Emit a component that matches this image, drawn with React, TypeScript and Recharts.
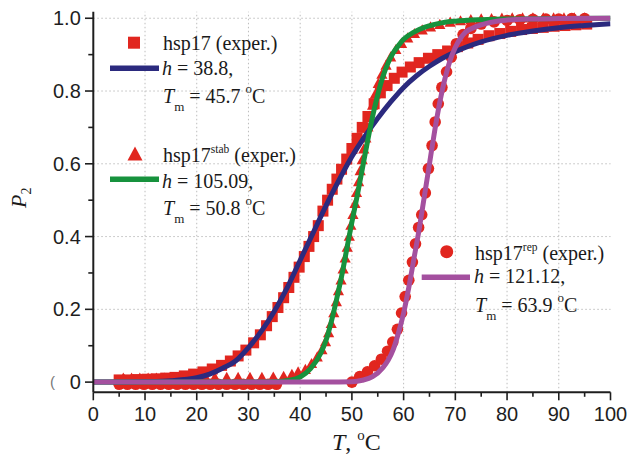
import React from "react";
import { ComposedChart, XAxis, YAxis, Line, Scatter, ReferenceLine } from "recharts";

// ---------- axis ticks / labels ----------
const xTickValues = [0, 5, 10, 15, 20, 25, 30, 35, 40, 45, 50, 55, 60, 65, 70, 75, 80, 85, 90, 95, 100];
const xTickLabels = ["0", "10", "20", "30", "40", "50", "60", "70", "80", "90", "100"];
const yTickValues = [0, 0.1, 0.2, 0.3, 0.4, 0.5, 0.6, 0.7, 0.8, 0.9, 1.0];
const yTickLabels = ["0", "0.2", "0.4", "0.6", "0.8", "1.0"];
const xGridValues = [10, 20, 30, 40, 50, 60, 70, 80, 90];
const yGridValues = [0.2, 0.4, 0.6, 0.8, 1.0];

// ---------- hsp17 (squares) experimental ----------
const sqT = [5, 6.8, 8.6, 10.4, 12.2, 14, 15.8, 17.6, 19.4, 21.2, 23, 24.8, 26.5, 28, 29.5, 31, 32.3, 33.5, 34.6, 35.7, 36.8, 37.8, 38.8, 39.8, 40.8, 41.7, 42.6, 43.5, 44.4, 45.3, 46.2, 47.1, 48, 49, 50, 51, 52, 53.1, 54.3, 55.5, 56.8, 58.2, 59.7, 61.3, 63, 64.8, 66.6, 68.5, 70.4, 72.4, 74.4, 76.5, 78.6, 80.7, 82.8, 84.9, 87, 89.1, 91.2, 93.3, 95.4];
const sqP = [0.006, 0.006, 0.007, 0.008, 0.009, 0.011, 0.013, 0.017, 0.022, 0.028, 0.036, 0.046, 0.058, 0.072, 0.088, 0.108, 0.13, 0.155, 0.18, 0.205, 0.232, 0.26, 0.288, 0.316, 0.345, 0.373, 0.4, 0.43, 0.47, 0.5, 0.53, 0.558, 0.585, 0.613, 0.642, 0.67, 0.7, 0.73, 0.765, 0.795, 0.815, 0.835, 0.852, 0.866, 0.878, 0.89, 0.9, 0.91, 0.922, 0.932, 0.942, 0.952, 0.958, 0.964, 0.969, 0.972, 0.975, 0.978, 0.98, 0.982, 0.984];

// ---------- hsp17 fit (navy) ----------
const fitNavyT = [0, 5, 10, 15, 20, 22.5, 25, 27.5, 30, 32.5, 35, 37.5, 40, 42.5, 45, 47.5, 50, 52.5, 55, 57.5, 60, 62.5, 65, 67.5, 70, 75, 80, 85, 90, 95, 100];
const fitNavyP = [0, 0.0005, 0.0015, 0.004, 0.012, 0.022, 0.038, 0.058, 0.095, 0.14, 0.195, 0.26, 0.335, 0.41, 0.485, 0.555, 0.62, 0.675, 0.725, 0.77, 0.81, 0.842, 0.868, 0.89, 0.908, 0.935, 0.953, 0.965, 0.974, 0.98, 0.985];

// ---------- hsp17stab (triangles) experimental ----------
const triT = [5.8, 7.4, 9, 10.6, 12.2, 13.8, 15.4, 17, 18.6, 20.2, 21.8, 23.5, 25.8, 28, 30.3, 32.6, 34.8, 36.8, 38.4, 39.6, 41, 42.2, 43.3, 44.2, 44.9, 45.5, 46, 46.5, 47, 47.4, 47.9, 48.3, 48.7, 49.1, 49.5, 49.8, 50.2, 50.6, 50.9, 51.3, 51.6, 52, 52.3, 52.7, 53.1, 53.5, 54, 54.5, 55.1, 55.8, 56.6, 57.5, 58.5, 59.6, 60.8, 62.1, 63.6, 65.2, 67, 69, 71, 73, 75, 77, 79, 81, 83, 85, 87, 89, 91, 93, 95];
const triP = [0.01, 0.01, 0.01, 0.01, 0.01, 0.01, 0.01, 0.01, 0.01, 0.01, 0.01, 0.012, 0.012, 0.012, 0.012, 0.012, 0.013, 0.015, 0.02, 0.027, 0.034, 0.05, 0.068, 0.088, 0.11, 0.135, 0.16, 0.19, 0.22, 0.25, 0.28, 0.31, 0.34, 0.37, 0.4, 0.43, 0.46, 0.49, 0.52, 0.55, 0.58, 0.61, 0.64, 0.67, 0.7, 0.73, 0.76, 0.79, 0.82, 0.845, 0.87, 0.893, 0.913, 0.93, 0.945, 0.957, 0.967, 0.975, 0.982, 0.988, 0.992, 0.995, 0.997, 0.998, 0.999, 1.0, 1.0, 1.0, 1.0, 1.0, 1.0, 1.0, 1.0];

// ---------- hsp17stab fit (green) ----------
const fitGreenT = [0, 30, 35, 38, 40, 42, 44, 45, 46, 47, 48, 49, 50, 51, 52, 53, 54, 55, 56, 57, 58, 59, 60, 62, 64, 66, 68, 70, 75, 80, 90, 100];
const fitGreenP = [0, 0, 0.001, 0.005, 0.014, 0.037, 0.08, 0.115, 0.165, 0.225, 0.29, 0.365, 0.44, 0.51, 0.585, 0.66, 0.73, 0.79, 0.84, 0.878, 0.905, 0.925, 0.942, 0.962, 0.975, 0.983, 0.989, 0.992, 0.996, 0.998, 0.999, 1.0];

// ---------- hsp17rep (circles) experimental ----------
const repT = [5, 6.6, 8.2, 9.8, 11.4, 13, 14.6, 16.2, 17.8, 19.4, 21, 22.6, 24.2, 25.8, 27.4, 29, 30.6, 32.2, 33.8, 35.4, 50, 51.5, 53, 54.4, 55.7, 56.9, 57.9, 58.8, 59.6, 60.3, 61, 61.7, 62.3, 62.9, 63.5, 64.2, 64.8, 65.5, 66.1, 66.7, 67.4, 68.3, 69.2, 70.2, 71.5, 73, 75, 77.5, 80, 82.5, 85, 87.5, 90, 92.5, 95];
const repP = [-0.006, -0.006, -0.006, -0.006, -0.006, -0.006, -0.006, -0.006, -0.006, -0.006, -0.006, -0.006, -0.006, -0.006, -0.006, -0.006, -0.006, -0.006, -0.006, -0.006, 0, 0.015, 0.028, 0.045, 0.063, 0.085, 0.11, 0.145, 0.19, 0.235, 0.28, 0.33, 0.38, 0.425, 0.46, 0.52, 0.587, 0.65, 0.715, 0.765, 0.81, 0.853, 0.893, 0.93, 0.955, 0.972, 0.984, 0.99, 0.994, 0.996, 0.997, 0.998, 0.998, 0.999, 0.999];

// ---------- hsp17rep fit (purple) ----------
const fitPurpleT = [0, 45, 50, 52, 54, 56, 57, 58, 59, 60, 61, 62, 63, 64, 65, 66, 67, 68, 69, 70, 71, 72, 74, 76, 78, 80, 85, 90, 100];
const fitPurpleP = [0, 0, 0.001, 0.005, 0.015, 0.04, 0.06, 0.09, 0.135, 0.19, 0.26, 0.34, 0.42, 0.51, 0.6, 0.69, 0.77, 0.835, 0.885, 0.92, 0.945, 0.962, 0.977, 0.986, 0.992, 0.995, 0.998, 0.999, 1.0];

const pairs = (ts: number[], ps: number[]) => ts.map((T, i) => ({ T, P: ps[i] }));
const squares = pairs(sqT, sqP);
const triangles = pairs(triT, triP);
const circles = pairs(repT, repP);
const navyFit = pairs(fitNavyT, fitNavyP);
const greenFit = pairs(fitGreenT, fitGreenP);
const purpleFit = pairs(fitPurpleT, fitPurpleP);

const RED = "#e1261f";
const NAVY = "#2b2a7e";
const GREEN = "#17923d";
const PURPLE = "#a4509f";
const AXIS = "#1e1e1e";
const SANS = "'Liberation Sans', Arial, sans-serif";
const SERIF = "'Liberation Serif', 'Times New Roman', serif";

const XTick = (props: any) => {
  const { x, y, payload } = props;
  const v = Number(payload.value);
  const major = Math.round(v) % 10 === 0;
  return (
    <g>
      <line x1={x} x2={x} y1={y} y2={y + (major ? 8 : 4.5)} stroke={AXIS} strokeWidth={1.6} />
      {major && (
        <text x={x} y={y + 28.3} textAnchor="middle" fontSize={20} fontFamily={SANS} fill={AXIS}>
          {xTickLabels[Math.round(v / 10)]}
        </text>
      )}
    </g>
  );
};

const YTick = (props: any) => {
  const { x, y, payload } = props;
  const k = Math.round(Number(payload.value) * 10);
  const major = k % 2 === 0;
  return (
    <g>
      <line x1={x - (major ? 8.3 : 5)} x2={x} y1={y} y2={y} stroke={AXIS} strokeWidth={1.6} />
      {major && (
        <text x={x - 12.5} y={y + 7} textAnchor="end" fontSize={20} fontFamily={SANS} fill={AXIS}>
          {yTickLabels[k / 2]}
        </text>
      )}
    </g>
  );
};

const SquareMark = (p: any) =>
  p.cx == null ? <g /> : <rect x={p.cx - 5.5} y={p.cy - 5.5} width={11} height={11} fill={RED} />;
const TriMark = (p: any) =>
  p.cx == null ? <g /> : (
    <polygon points={`${p.cx},${p.cy - 6} ${p.cx + 5.6},${p.cy + 4.2} ${p.cx - 5.6},${p.cy + 4.2}`} fill={RED} />
  );
const CircleMark = (p: any) => (p.cx == null ? <g /> : <circle cx={p.cx} cy={p.cy} r={5.8} fill={RED} />);

const W = 636;
const H = 454;

export default function App() {
  const scatterZ: any = { zIndex: 300 };
  const gridZ: any = { zIndex: -50 };
  return (
    <div style={{ position: "fixed", left: 0, top: 0, width: W, height: H, background: "#fff" }}>
      <ComposedChart width={W} height={H} margin={{ top: 11.7, right: 25.5, left: 33.3, bottom: 16.7 }}>
        <XAxis
          dataKey="T"
          type="number"
          domain={[0, 100]}
          allowDataOverflow
          ticks={xTickValues}
          interval={0}
          tickSize={0}
          tickMargin={0}
          tickLine={false}
          tick={(p: any) => <XTick {...p} />}
          axisLine={{ stroke: AXIS, strokeWidth: 2 }}
          height={45}
        />
        <XAxis xAxisId="top" orientation="top" type="number" domain={[0, 100]} height={0} tick={false} tickLine={false} axisLine={{ stroke: AXIS, strokeWidth: 2 }} />
        <YAxis
          dataKey="P"
          type="number"
          domain={[-0.028, 1.018]}
          allowDataOverflow
          ticks={yTickValues}
          interval={0}
          tickSize={0}
          tickMargin={0}
          tickLine={false}
          tick={(p: any) => <YTick {...p} />}
          axisLine={{ stroke: AXIS, strokeWidth: 2 }}
          width={60}
        />
        <YAxis yAxisId="right" orientation="right" type="number" domain={[-0.028, 1.018]} width={0} tick={false} tickLine={false} axisLine={{ stroke: AXIS, strokeWidth: 2 }} />
        {xGridValues.map((v) => (
          <ReferenceLine key={"gx" + v} x={v} stroke="#bdbdbd" strokeWidth={1} strokeDasharray="1.5 2.5" {...gridZ} />
        ))}
        {yGridValues.map((v) => (
          <ReferenceLine key={"gy" + v} y={v} stroke="#bdbdbd" strokeWidth={1} strokeDasharray="1.5 2.5" {...gridZ} />
        ))}
        <Scatter data={circles} dataKey="P" shape={CircleMark} isAnimationActive={false} {...scatterZ} />
        <Scatter data={squares} dataKey="P" shape={SquareMark} isAnimationActive={false} {...scatterZ} />
        <Scatter data={triangles} dataKey="P" shape={TriMark} isAnimationActive={false} {...scatterZ} />
        <Line data={navyFit} dataKey="P" type="monotone" stroke={NAVY} strokeWidth={5} dot={false} activeDot={false} isAnimationActive={false} />
        <Line data={greenFit} dataKey="P" type="monotone" stroke={GREEN} strokeWidth={5} dot={false} activeDot={false} isAnimationActive={false} />
        <Line data={purpleFit} dataKey="P" type="monotone" stroke={PURPLE} strokeWidth={5} dot={false} activeDot={false} isAnimationActive={false} />
      </ComposedChart>
      <svg width={W} height={H} style={{ position: "absolute", left: 0, top: 0, pointerEvents: "none" }} xmlSpace="preserve">
        <g fontFamily={SERIF} fontSize={20} fill="#1a1a1a">
          {/* legend 1 */}
          <rect x={128} y={36.7} width={12} height={12} fill={RED} />
          <text x={163} y={50}>hsp17 (exper.)</text>
          <line x1={110} x2={159} y1={68.3} y2={68.3} stroke={NAVY} strokeWidth={5.5} />
          <text x={162} y={75}><tspan fontStyle="italic">h</tspan> = 38.8,</text>
          <text x={163} y={103}>
            <tspan fontStyle="italic">T</tspan>
            <tspan fontSize={13} dy={8}>m</tspan>
            <tspan dy={-8}> = 45.7 </tspan>
            <tspan fontSize={13} dy={-10}>o</tspan>
            <tspan dy={10}>C</tspan>
          </text>
          {/* legend 2 */}
          <polygon points="135,146.5 142.5,160.5 127.5,160.5" fill={RED} />
          <text x={163} y={162}>
            hsp17<tspan fontSize={11.5} dy={-9}>stab</tspan>
            <tspan dy={9}> (exper.)</tspan>
          </text>
          <line x1={110} x2={159} y1={179.3} y2={179.3} stroke={GREEN} strokeWidth={5.5} />
          <text x={162} y={187.5}><tspan fontStyle="italic">h</tspan> = 105.09,</text>
          <text x={163} y={215}>
            <tspan fontStyle="italic">T</tspan>
            <tspan fontSize={13} dy={8}>m</tspan>
            <tspan dy={-8}> = 50.8 </tspan>
            <tspan fontSize={13} dy={-10}>o</tspan>
            <tspan dy={10}>C</tspan>
          </text>
          {/* legend 3 */}
          <circle cx={446.7} cy={251.7} r={6.5} fill={RED} />
          <text x={475} y={260}>
            hsp17<tspan fontSize={11.5} dy={-9}>rep</tspan>
            <tspan dy={9}> (exper.)</tspan>
          </text>
          <line x1={421.7} x2={470} y1={277.3} y2={277.3} stroke={PURPLE} strokeWidth={5.5} />
          <text x={474} y={283.3}><tspan fontStyle="italic">h</tspan> = 121.12,</text>
          <text x={475} y={311.7}>
            <tspan fontStyle="italic">T</tspan>
            <tspan fontSize={13} dy={8}>m</tspan>
            <tspan dy={-8}> = 63.9 </tspan>
            <tspan fontSize={13} dy={-10}>o</tspan>
            <tspan dy={10}>C</tspan>
          </text>
          {/* axis titles */}
          <text x={332} y={450} fontSize={24}>
            <tspan fontStyle="italic">T</tspan>, <tspan fontSize={15} dy={-10}>o</tspan>
            <tspan dy={10}>C</tspan>
          </text>
          <text x={26} y={208} fontSize={22} transform="rotate(-90 26 208)">
            <tspan fontStyle="italic">P</tspan>
            <tspan fontSize={14} dy={5}>2</tspan>
          </text>
        </g>
        <text x={50} y={387} fontSize={15} fontFamily={SANS} fill="#777">(</text>
      </svg>
    </div>
  );
}
